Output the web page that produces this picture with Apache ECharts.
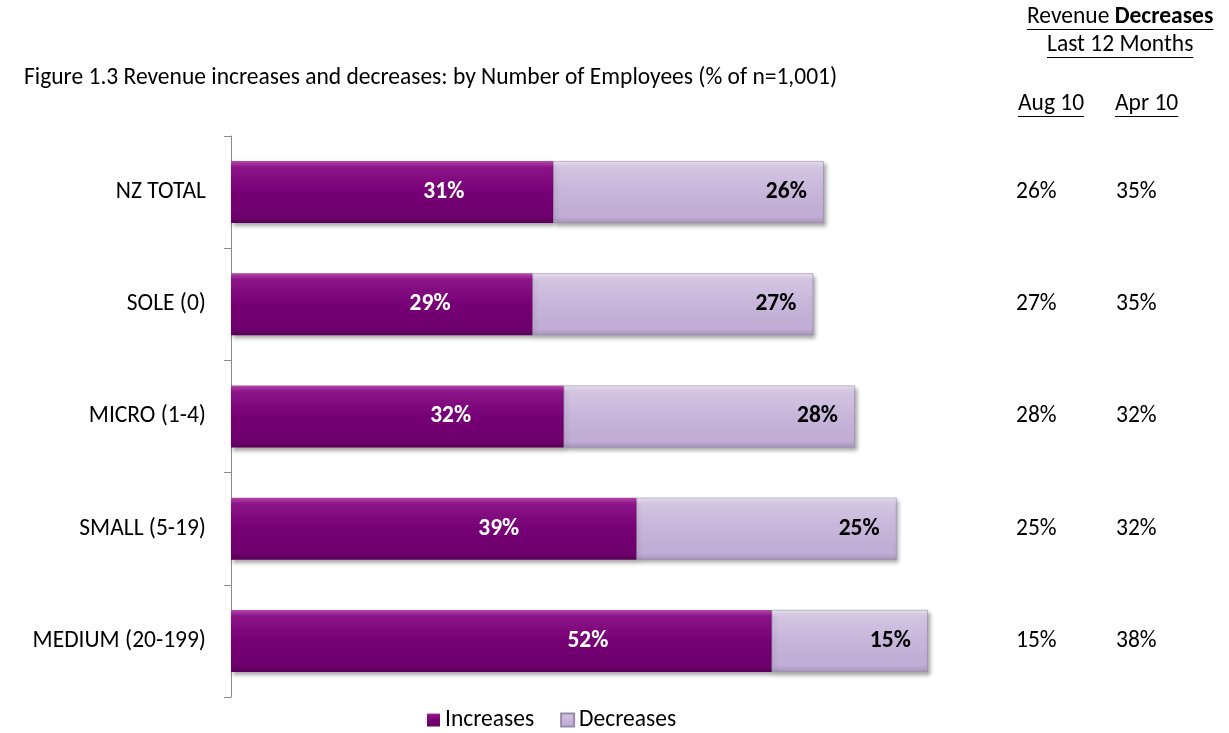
<!DOCTYPE html>
<html>
<head>
<meta charset="utf-8">
<script src="https://cdn.jsdelivr.net/npm/echarts@6/dist/echarts.min.js"></script>
<style>
  html, body { margin: 0; padding: 0; background: #fff; }
  #chart { width: 1229px; height: 733px; }
</style>
</head>
<body>
<div id="chart"></div>
<script>
// Business size groups, top to bottom
const categories = ['NZ TOTAL', 'SOLE (0)', 'MICRO (1-4)', 'SMALL (5-19)', 'MEDIUM (20-199)'];
// Share of businesses reporting revenue increases / decreases (%)
const increases = [31, 29, 32, 39, 52];
const decreases = [26, 27, 28, 25, 15];
// Revenue decreases in earlier survey waves (%)
const aug10 = [26, 27, 28, 25, 15];
const apr10 = [35, 35, 32, 32, 38];

const FONT = 'Carlito, Lato, sans-serif';
const FS = 23.5;

const chart = echarts.init(document.getElementById('chart'));

// measure a string so the header underlines follow the text width
const measureCtx = document.createElement('canvas').getContext('2d');
function textWidth(str, weight) {
  measureCtx.font = (weight || 'normal') + ' ' + FS + 'px ' + FONT;
  return measureCtx.measureText(str).width;
}

const incColor = new echarts.graphic.LinearGradient(0, 0, 0, 1, [
  { offset: 0, color: '#b247aa' },
  { offset: 0.1, color: '#8c1489' },
  { offset: 0.5, color: '#760075' },
  { offset: 0.9, color: '#6e006d' },
  { offset: 1, color: '#580056' }
]);
const decColor = new echarts.graphic.LinearGradient(0, 0, 0, 1, [
  { offset: 0, color: '#eee6f4' },
  { offset: 0.12, color: '#d3c4e2' },
  { offset: 0.5, color: '#c7b5da' },
  { offset: 0.9, color: '#c0acd4' },
  { offset: 1, color: '#a896bb' }
]);

function rightColumn(values, offset) {
  return {
    type: 'category',
    data: values.map(v => v + '%'),
    inverse: true,
    position: 'right',
    offset: offset,
    axisLine: { show: false },
    axisTick: { show: false },
    axisLabel: { margin: 0, align: 'left', fontFamily: FONT, fontSize: FS, color: '#000' }
  };
}

// header text with an underline of the same width
function header(parts, left, middleY) {
  const w = parts.reduce((s, p) => s + textWidth(p.t, p.b ? 'bold' : 'normal'), 0);
  return [
    {
      type: 'text',
      x: left, y: middleY,
      style: {
        text: parts.map(p => p.b ? '{b|' + p.t + '}' : p.t).join(''),
        fontFamily: FONT, fontSize: FS, fill: '#000', verticalAlign: 'middle',
        rich: { b: { fontFamily: FONT, fontSize: FS, fontWeight: 'bold' } }
      }
    },
    {
      type: 'line',
      shape: { x1: left, y1: middleY + 12.5, x2: left + w, y2: middleY + 12.5 },
      style: { stroke: '#000', lineWidth: 1 }
    }
  ];
}

chart.setOption({
  animation: false,
  textStyle: { fontFamily: FONT },
  title: {
    text: 'Figure 1.3 Revenue increases and decreases: by Number of Employees (% of n=1,001)',
    left: 19,
    top: 61,
    textStyle: { fontFamily: FONT, fontSize: FS, fontWeight: 'normal', color: '#000' }
  },
  legend: {
    top: 708,
    left: 427,
    padding: 0,
    icon: 'rect',
    itemWidth: 13,
    itemHeight: 13,
    itemGap: 26,
    textStyle: { fontFamily: FONT, fontSize: FS, color: '#000', padding: [0, 0, 0, 0] },
    data: ['Increases', 'Decreases']
  },
  grid: { left: 231, top: 136, width: 728, height: 561, containLabel: false },
  xAxis: { type: 'value', min: 0, max: 70, show: false },
  yAxis: [
    {
      type: 'category',
      data: categories,
      inverse: true,
      axisLine: { show: true, lineStyle: { color: '#8c8c8c' } },
      axisTick: { show: true, length: 7, lineStyle: { color: '#8c8c8c' } },
      axisLabel: { margin: 25, fontFamily: FONT, fontSize: FS, color: '#000' }
    },
    rightColumn(aug10, 57),
    rightColumn(apr10, 157)
  ],
  series: [
    {
      name: 'Increases',
      type: 'bar',
      stack: 'rev',
      barWidth: 62,
      data: increases,
      itemStyle: {
        color: incColor,
        shadowColor: 'rgba(0,0,0,0.35)', shadowBlur: 4, shadowOffsetX: 2, shadowOffsetY: 3
      },
      label: {
        show: true,
        position: ['66%', '50%'],
        align: 'center',
        verticalAlign: 'middle',
        formatter: '{c}%',
        fontFamily: FONT, fontSize: FS, fontWeight: 'bold', color: '#fff'
      }
    },
    {
      name: 'Decreases',
      type: 'bar',
      stack: 'rev',
      barWidth: 62,
      data: decreases,
      itemStyle: {
        color: decColor,
        borderColor: '#9a8aac', borderWidth: 0.6,
        shadowColor: 'rgba(0,0,0,0.35)', shadowBlur: 4, shadowOffsetX: 2, shadowOffsetY: 3
      },
      label: {
        show: true,
        position: 'insideRight',
        distance: 17,
        formatter: '{c}%',
        fontFamily: FONT, fontSize: FS, fontWeight: 'bold', color: '#000'
      }
    }
  ],
  graphic: [
    ...header([{ t: 'Revenue ' }, { t: 'Decreases', b: true }], 1027, 17),
    ...header([{ t: 'Last 12 Months' }], 1047, 45),
    ...header([{ t: 'Aug 10' }], 1018, 104),
    ...header([{ t: 'Apr 10' }], 1115, 104)
  ]
});
</script>
</body>
</html>
